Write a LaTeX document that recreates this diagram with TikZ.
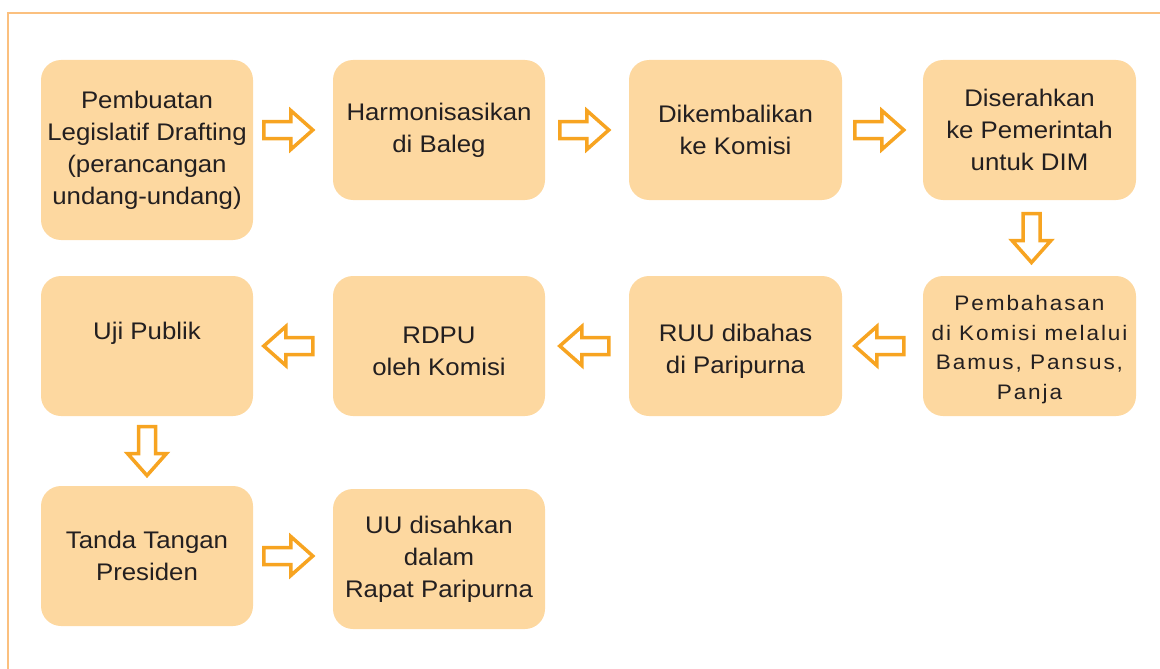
\documentclass[tikz,border=0pt]{standalone}
\usepackage{fontspec}
\setmainfont[FakeStretch=1.075]{Liberation Sans}
\usepackage{tikz}
\usetikzlibrary{calc}

\definecolor{boxfill}{HTML}{FDD8A0}
\definecolor{arrline}{HTML}{F7A421}
\definecolor{frameline}{HTML}{FBC07F}
\definecolor{txt}{HTML}{231F20}

\tikzset{
  stepbox/.style={rectangle, rounded corners=20pt, fill=boxfill,
    minimum width=212pt, minimum height=140pt, align=center,
    text=txt, font=\fontsize{24}{32}\selectfont},
  blockarrow/.pic={
    \draw[draw=arrline, fill=white, line width=3.5pt, line join=miter]
      (-24.5,-8.5) -- (2.5,-8.5) -- (2.5,-19.5) -- (24.5,0)
      -- (2.5,19.5) -- (2.5,8.5) -- (-24.5,8.5) -- cycle;
  }
}

\begin{document}
\begin{tikzpicture}[x=1pt, y=-1pt]
    \useasboundingbox (0,0) rectangle (1160,669);

    % Frame on top and left side
    \draw[frameline, line width=2pt] (8,669) -- (8,13) -- (1160,13);

    % First row
    \node[stepbox, minimum height=180pt] (b1) at (147,150)
      {Pembuatan\\Legislatif Drafting\\(perancangan\\undang-undang)};
    \node[stepbox] (b2) at (439,130) {Harmonisasikan\\di Baleg};
    \node[stepbox, minimum width=213pt] (b3) at (735.5,130) {Dikembalikan\\ke Komisi};
    \node[stepbox, minimum width=213pt] (b4) at (1029.5,130)
      {Diserahkan\\ke Pemerintah\\untuk DIM};

    % Second row (text sits a little low in these boxes)
    \node[stepbox, minimum width=213pt,
      font=\fontsize{21}{29.5}\selectfont\addfontfeature{LetterSpace=9}]
      (b8) at (1029.5,346)
      {\rule{0pt}{22pt}Pembahasan\\di Komisi melalui\\Bamus, Pansus,\\Panja};
    \node[stepbox, minimum width=213pt] (b7) at (735.5,346)
      {\rule{0pt}{28pt}RUU dibahas\\di Paripurna};
    \node[stepbox] (b6) at (439,346) {\rule{0pt}{28pt}RDPU\\oleh Komisi};
    \node[stepbox] (b5) at (147,346) {Uji Publik\rule[-31pt]{0pt}{31pt}};

    % Third row
    \node[stepbox] (b9) at (147,556) {Tanda Tangan\\Presiden};
    \node[stepbox] (b10) at (439,559) {UU disahkan\\dalam\\Rapat Paripurna};

    % Arrows between the boxes
    \pic at ([xshift=-44.5pt]b2.west) {blockarrow};
    \pic at ([xshift=-44.5pt]b3.west) {blockarrow};
    \pic at ([xshift=-43.5pt]b4.west) {blockarrow};
    \pic[rotate=-90] at ([xshift=2pt]$(b4.south)!0.5!(b8.north)$) {blockarrow};
    \pic[rotate=180] at ([xshift=-43.5pt]b8.west) {blockarrow};
    \pic[rotate=180] at ([xshift=-44.5pt]b7.west) {blockarrow};
    \pic[rotate=180] at ([xshift=-44.5pt]b6.west) {blockarrow};
    \pic[rotate=-90] at ($(b5.south)!0.5!(b9.north)$) {blockarrow};
    \pic at ([xshift=-44.5pt,yshift=3pt]b10.west) {blockarrow};

\end{tikzpicture}
\end{document}
